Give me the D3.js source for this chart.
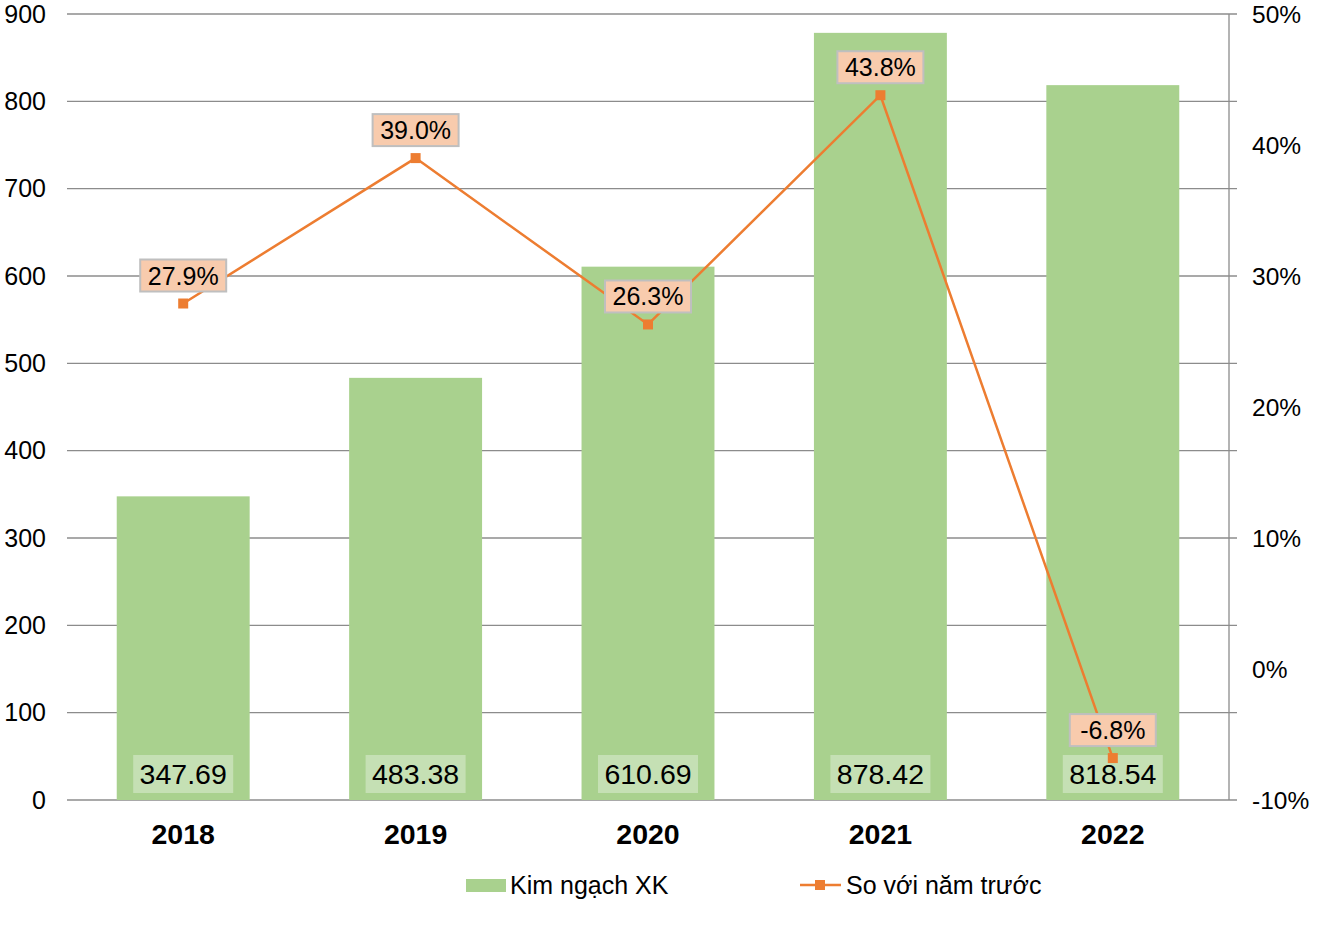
<!DOCTYPE html>
<html>
<head>
<meta charset="utf-8">
<script src="https://cdn.jsdelivr.net/npm/d3@7"></script>
<style>
  html, body { margin: 0; padding: 0; background: #fff; }
  svg { display: block; font-family: "Liberation Sans", Arial, sans-serif; }
</style>
</head>
<body>
<svg id="chart" width="1335" height="928"></svg>
<script>
const years = ["2018", "2019", "2020", "2021", "2022"];
const exportValues = [347.69, 483.38, 610.69, 878.42, 818.54];
const growthPct = [27.9, 39.0, 26.3, 43.8, -6.8];
const leftTicks = [0, 100, 200, 300, 400, 500, 600, 700, 800, 900];
const rightTicks = [-10, 0, 10, 20, 30, 40, 50];
const seriesNames = ["Kim ngạch XK", "So với năm trước"];

const svg = d3.select("#chart");
const m = { left: 67, right: 1229, top: 14, bottom: 800 };

const x = d3.scaleBand().domain(years).range([m.left, m.right]).paddingInner(0.428).paddingOuter(0.214);
const yL = d3.scaleLinear().domain([0, 900]).range([m.bottom, m.top]);
const yR = d3.scaleLinear().domain([-10, 50]).range([m.bottom, m.top]);

const gridColor = "#8c8c8c";

// gridlines
svg.append("g").selectAll("line").data(leftTicks).join("line")
  .attr("x1", m.left).attr("x2", m.right + 8)
  .attr("y1", d => yL(d)).attr("y2", d => yL(d))
  .attr("stroke", gridColor).attr("stroke-width", 1.3);

// bars
svg.append("g").selectAll("rect").data(exportValues).join("rect")
  .attr("x", (d, i) => x(years[i]))
  .attr("width", x.bandwidth())
  .attr("y", d => yL(d))
  .attr("height", d => yL(0) - yL(d))
  .attr("fill", "#A9D18E");

// right axis line
svg.append("line").attr("x1", m.right).attr("x2", m.right)
  .attr("y1", m.top).attr("y2", m.bottom)
  .attr("stroke", gridColor).attr("stroke-width", 1.3);

// left tick labels
svg.append("g").selectAll("text").data(leftTicks).join("text")
  .attr("x", 46).attr("y", d => yL(d)).attr("dy", "0.35em")
  .attr("text-anchor", "end").attr("font-size", 25).attr("fill", "#000")
  .text(d => d);

// right tick labels
svg.append("g").selectAll("text").data(rightTicks).join("text")
  .attr("x", 1252).attr("y", d => yR(d)).attr("dy", "0.35em")
  .attr("text-anchor", "start").attr("font-size", 24.5).attr("fill", "#000")
  .text(d => d + "%");

// x labels
svg.append("g").selectAll("text").data(years).join("text")
  .attr("x", d => x(d) + x.bandwidth() / 2).attr("y", 834).attr("dy", "0.35em")
  .attr("text-anchor", "middle").attr("font-size", 28.5).attr("font-weight", "bold")
  .text(d => d);

// value labels in bars
const vl = svg.append("g").selectAll("g").data(exportValues).join("g")
  .attr("transform", (d, i) => `translate(${x(years[i]) + x.bandwidth() / 2},774)`);
vl.append("rect").attr("x", -50).attr("y", -19).attr("width", 100).attr("height", 38).attr("fill", "#C5E0B4");
vl.append("text").attr("text-anchor", "middle").attr("dy", "0.36em").attr("font-size", 28.5).text(d => d.toFixed(2));

// line
const cx = (i) => x(years[i]) + x.bandwidth() / 2;
const line = d3.line().x((d, i) => cx(i)).y(d => yR(d));
svg.append("path").datum(growthPct).attr("d", line)
  .attr("fill", "none").attr("stroke", "#ED7D31").attr("stroke-width", 2.5);
svg.append("g").selectAll("rect").data(growthPct).join("rect")
  .attr("x", (d, i) => cx(i) - 5).attr("y", d => yR(d) - 5)
  .attr("width", 10).attr("height", 10).attr("fill", "#ED7D31");

// percent labels
const pl = svg.append("g").selectAll("g").data(growthPct).join("g")
  .attr("transform", (d, i) => `translate(${cx(i)},${yR(d) - 28})`);
pl.append("rect").attr("x", -43).attr("y", -16).attr("width", 86).attr("height", 32)
  .attr("fill", "#F8CBAD").attr("stroke", "#BFBFBF").attr("stroke-width", 2);
pl.append("text").attr("text-anchor", "middle").attr("dy", "0.36em").attr("font-size", 25)
  .text(d => d.toFixed(1) + "%");

// legend
const lg = svg.append("g");
lg.append("rect").attr("x", 466).attr("y", 879).attr("width", 40).attr("height", 13).attr("fill", "#A9D18E");
lg.append("text").attr("x", 510).attr("y", 885).attr("dy", "0.35em").attr("font-size", 25).text(seriesNames[0]);
lg.append("line").attr("x1", 800).attr("x2", 841).attr("y1", 885).attr("y2", 885)
  .attr("stroke", "#ED7D31").attr("stroke-width", 2.5);
lg.append("rect").attr("x", 815).attr("y", 880).attr("width", 10).attr("height", 10).attr("fill", "#ED7D31");
lg.append("text").attr("x", 846).attr("y", 885).attr("dy", "0.35em").attr("font-size", 25).text(seriesNames[1]);
</script>
</body>
</html>
